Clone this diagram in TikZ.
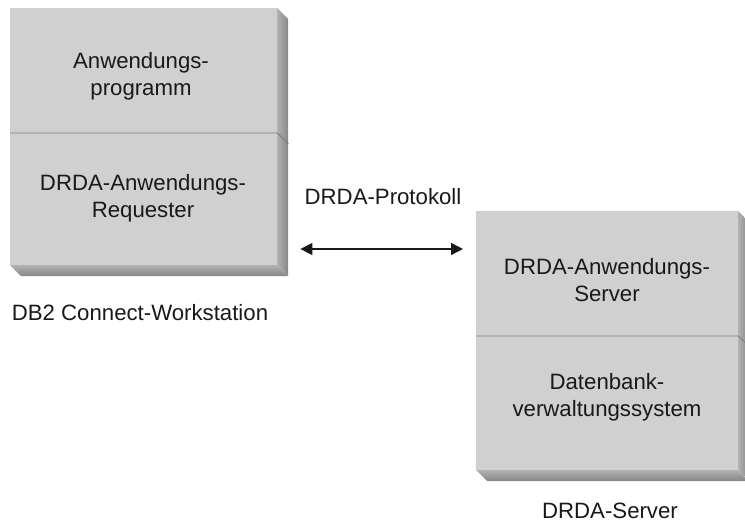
\documentclass[tikz,border=0pt]{standalone}
\usepackage{fontspec}
\setmainfont{Liberation Sans}
\usetikzlibrary{arrows.meta,calc}
\definecolor{facegray}{RGB}{208,208,208}
\definecolor{sidein}{RGB}{178,178,178}
\definecolor{sideout}{RGB}{135,135,135}
\definecolor{divgray}{RGB}{125,125,125}
\tikzset{
  face/.style={fill=facegray, draw=none, inner sep=0pt, anchor=north west},
  txt/.style={align=center, font=\fontsize{22.2}{27}\selectfont, text=black!90, inner sep=0pt},
  divline/.style={draw=divgray, line width=0.9pt},
  link/.style={{Triangle[length=12pt,width=12pt]}-{Triangle[length=12pt,width=12pt]}, line width=1.6pt, black!90}
}
\newcommand{\extrude}[4]{% x1 y1 x2 y2 of front face
  \shade[left color=sidein, right color=sideout] (#3,#2) -- (#3+11,#2+11) -- (#3+11,#4+11) -- (#3,#4) -- cycle;
  \shade[top color=sidein, bottom color=sideout] (#1,#4) -- (#3,#4) -- (#3+11,#4+11) -- (#1+11,#4+11) -- cycle;
}
\begin{document}
\begin{tikzpicture}[x=1pt,y=-1pt]
\useasboundingbox (0,0) rectangle (745,524);
% left box
\extrude{10}{8}{277}{265}
\node[face, minimum width=267pt, minimum height=125pt] (a1) at (10,8) {};
\node[face, minimum width=267pt, minimum height=132pt] (a2) at (10,133) {};
\draw[divline] (a2.north west) -- (a2.north east) -- ++(11,11);
\node[txt] (ta1) at (141,76) {Anwendungs-\\programm};
\node[txt] (ta2) at (143,198.5) {DRDA-Anwendungs-\\Requester};
\node[txt] (la) at (140,313) {DB2 Connect-Workstation};
% right box
\extrude{476}{211}{738}{470}
\node[face, minimum width=262pt, minimum height=125pt] (b1) at (476,211) {};
\node[face, minimum width=262pt, minimum height=134pt] (b2) at (476,336) {};
\draw[divline] (b2.north west) -- (b2.north east) -- ++(11,11);
\node[txt] (tb1) at (607,280.5) {DRDA-Anwendungs-\\Server};
\node[txt] (tb2) at (607,397.5) {Datenbank-\\verwaltungssystem};
\node[txt] (lb) at (610,511) {DRDA-Server};
% protocol
\node[txt] (proto) at (383,197) {DRDA-Protokoll};
\coordinate (pl) at ($(a1.east |- 0,249)+(23,0)$);
\coordinate (pr) at ($(b1.west |- 0,249)+(-13,0)$);
\draw[link] (pl) -- (pr);
\end{tikzpicture}
\end{document}
